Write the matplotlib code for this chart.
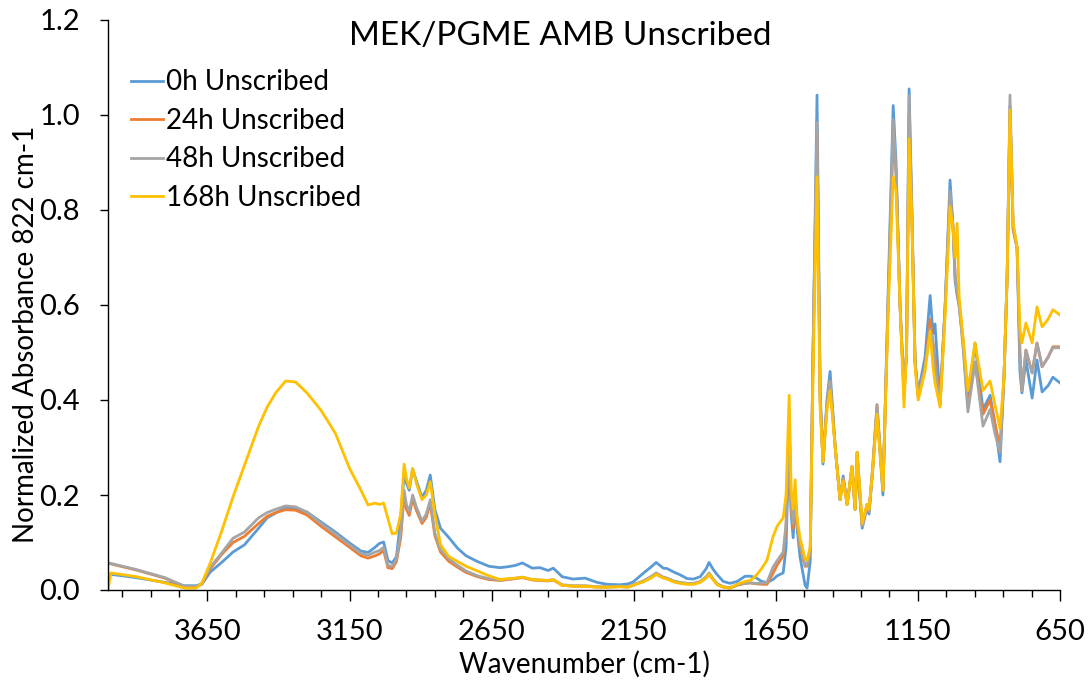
import numpy as np
import matplotlib.pyplot as plt
from matplotlib.ticker import MultipleLocator, FixedLocator, FormatStrFormatter

plt.rcParams["font.family"] = ["Lato", "DejaVu Sans"]

# wavenumber grid (cm-1), high to low
wavenumber = [
    4000, 3990, 3900, 3800, 3730, 3690, 3670, 3640, 3600, 3560,
    3520, 3470, 3440, 3410, 3375, 3340, 3300, 3250, 3200, 3150,
    3110, 3085, 3060, 3045, 3030, 3015, 3000, 2985, 2970, 2958,
    2950, 2940, 2928, 2915, 2895, 2880, 2866, 2850, 2830, 2800,
    2770, 2740, 2700, 2660, 2620, 2592, 2565, 2542, 2520, 2507,
    2480, 2451, 2433, 2402, 2363, 2321, 2279, 2243, 2198, 2170,
    2152, 2117, 2090, 2071, 2046, 2032, 2010, 1987, 1962, 1940,
    1916, 1895, 1885, 1870, 1856, 1835, 1811, 1786, 1758, 1740,
    1720, 1700, 1681, 1660, 1645, 1624, 1614, 1603, 1596, 1589,
    1582, 1575, 1565, 1547, 1540, 1529, 1519, 1505, 1494, 1484,
    1470, 1459, 1441, 1424, 1413, 1399, 1382, 1371, 1364, 1346,
    1329, 1322, 1308, 1294, 1273, 1255, 1237, 1227, 1213, 1199,
    1190, 1181, 1171, 1160, 1149, 1125, 1107, 1097, 1090, 1072,
    1054, 1037, 1026, 1019, 1012, 1005, 991, 974, 949, 921,
    896, 879, 861, 847, 836, 826, 815, 801, 791, 784,
    770, 748, 731, 713, 692, 675, 650,
]

abs_0h = [
    .033, .033, .026, .016, .009, .009, .012, .038, .058, .080,
    .095, .130, .152, .162, .174, .172, .164, .143, .122, .099,
    .082, .079, .090, .098, .101, .062, .057, .070, .150, .246,
    .225, .210, .255, .230, .195, .210, .242, .170, .130, .110,
    .088, .072, .060, .050, .047, .049, .052, .057, .050, .046,
    .047, .041, .046, .028, .023, .025, .016, .012, .011, .013,
    .017, .035, .048, .058, .046, .045, .038, .032, .024, .023,
    .028, .045, .058, .043, .032, .018, .014, .018, .029, .029,
    .026, .018, .016, .022, .030, .036, .090, .330, .160, .110,
    .190, .130, .070, .010, .004, .060, .500, 1.042, .420, .265,
    .400, .460, .300, .190, .240, .180, .255, .170, .270, .130,
    .175, .160, .260, .380, .200, .620, 1.020, .900, .600, .420,
    .500, 1.055, .790, .480, .415, .490, .620, .540, .560, .400,
    .600, .863, .760, .650, .620, .600, .526, .400, .520, .380,
    .410, .350, .270, .450, .660, 1.020, .760, .720, .460, .415,
    .484, .404, .484, .417, .430, .448, .436,
]

abs_24h = [
    .056, .055, .042, .025, .007, .006, .013, .045, .075, .100,
    .113, .140, .155, .163, .169, .168, .158, .134, .112, .090,
    .072, .067, .072, .076, .083, .047, .045, .060, .110, .200,
    .170, .157, .192, .168, .140, .153, .182, .115, .080, .060,
    .048, .037, .028, .022, .020, .022, .024, .026, .023, .021,
    .020, .019, .021, .010, .008, .008, .006, .006, .007, .006,
    .010, .018, .026, .033, .026, .024, .018, .015, .013, .013,
    .017, .026, .033, .022, .012, .006, .004, .010, .014, .015,
    .013, .012, .012, .035, .053, .072, .130, .350, .170, .130,
    .200, .140, .090, .050, .050, .080, .500, .960, .400, .270,
    .390, .440, .300, .190, .235, .180, .260, .170, .290, .135,
    .180, .165, .265, .390, .210, .600, .955, .880, .600, .410,
    .500, 1.000, .780, .480, .405, .470, .570, .520, .490, .390,
    .600, .830, .760, .660, .630, .600, .520, .385, .480, .370,
    .400, .350, .300, .450, .660, 1.000, .760, .720, .500, .420,
    .505, .457, .520, .470, .490, .512, .512,
]

abs_48h = [
    .057, .056, .043, .026, .008, .007, .014, .048, .078, .109,
    .122, .152, .163, .170, .177, .175, .164, .140, .118, .095,
    .077, .073, .080, .083, .090, .052, .050, .065, .120, .210,
    .180, .165, .200, .175, .145, .160, .190, .120, .085, .065,
    .052, .040, .030, .024, .021, .023, .025, .027, .024, .022,
    .021, .020, .022, .011, .009, .009, .007, .007, .008, .007,
    .011, .019, .028, .036, .027, .025, .019, .016, .014, .014,
    .018, .028, .036, .023, .013, .007, .005, .011, .014, .015,
    .014, .014, .016, .048, .062, .080, .140, .360, .180, .140,
    .200, .140, .095, .052, .052, .080, .500, .985, .400, .270,
    .390, .440, .300, .190, .235, .180, .260, .170, .290, .135,
    .180, .165, .270, .390, .210, .600, .990, .880, .600, .420,
    .500, 1.040, .790, .480, .410, .470, .550, .520, .470, .390,
    .600, .840, .760, .660, .630, .600, .510, .375, .480, .345,
    .380, .330, .290, .450, .660, 1.042, .770, .720, .500, .420,
    .505, .457, .520, .470, .490, .510, .510,
]

abs_168h = [
    .000, .036, .028, .015, .004, .004, .014, .057, .124, .196,
    .262, .345, .385, .415, .440, .438, .415, .378, .330, .256,
    .210, .179, .183, .180, .183, .150, .118, .120, .160, .265,
    .235, .215, .256, .225, .190, .200, .228, .160, .095, .070,
    .060, .050, .040, .030, .022, .024, .025, .027, .024, .022,
    .021, .020, .022, .010, .008, .008, .006, .006, .007, .006,
    .010, .017, .025, .033, .025, .023, .017, .014, .012, .012,
    .016, .025, .033, .021, .011, .006, .004, .012, .018, .020,
    .030, .045, .063, .112, .135, .152, .200, .410, .210, .170,
    .232, .150, .110, .065, .063, .090, .450, .870, .380, .270,
    .380, .420, .300, .190, .230, .180, .260, .170, .290, .140,
    .180, .170, .260, .370, .210, .580, .870, .840, .600, .385,
    .500, .950, .770, .470, .400, .460, .545, .470, .436, .385,
    .580, .807, .760, .700, .772, .617, .530, .420, .520, .420,
    .440, .390, .340, .450, .660, 1.010, .772, .722, .550, .520,
    .562, .520, .596, .554, .570, .590, .579,
]

labels = ["0h Unscribed", "24h Unscribed", "48h Unscribed", "168h Unscribed"]
colors = ["#5B9BD5", "#ED7D31", "#A5A5A5", "#FFC000"]

fig = plt.figure(figsize=(10.89, 6.82), dpi=100)
ax = fig.add_axes([108 / 1089, 92 / 682, 952 / 1089, 570 / 682])

for y, lab, c in zip([abs_0h, abs_24h, abs_48h, abs_168h], labels, colors):
    ax.plot(wavenumber, y, color=c, lw=2, label=lab)

ax.set_xlim(4000, 650)
ax.set_ylim(0, 1.2)
ax.xaxis.set_major_locator(FixedLocator(np.arange(650, 4000, 500)))
ax.xaxis.set_minor_locator(FixedLocator(np.arange(750, 4000, 100)))
ax.yaxis.set_major_locator(MultipleLocator(0.2))
ax.yaxis.set_major_formatter(FormatStrFormatter("%.1f"))

for side in ["top", "right"]:
    ax.spines[side].set_visible(False)
for side in ["left", "bottom"]:
    ax.spines[side].set_linewidth(1.0)
    ax.spines[side].set_color("black")

ax.tick_params(axis="x", which="major", length=8, width=1, pad=13, labelsize=21)
ax.tick_params(axis="x", which="minor", length=5, width=1)
ax.tick_params(axis="y", which="major", length=6, width=1, pad=14, labelsize=21)

ax.set_xlabel("Wavenumber (cm-1)", fontsize=20, labelpad=4)
ax.set_ylabel("Normalized Absorbance 822 cm-1", fontsize=20)
ax.yaxis.set_label_coords(-0.072, 0.449)

fig.text(560 / 1089, 1 - 36 / 682, "MEK/PGME AMB Unscribed", fontsize=24,
         ha="center", va="center")

ax.legend(loc="upper left", bbox_to_anchor=(0.0126, 0.933), frameon=False,
          fontsize=20, handlelength=1.15, handletextpad=0.1, labelspacing=0.45,
          borderaxespad=0)

fig.savefig("out.png", dpi=100)
